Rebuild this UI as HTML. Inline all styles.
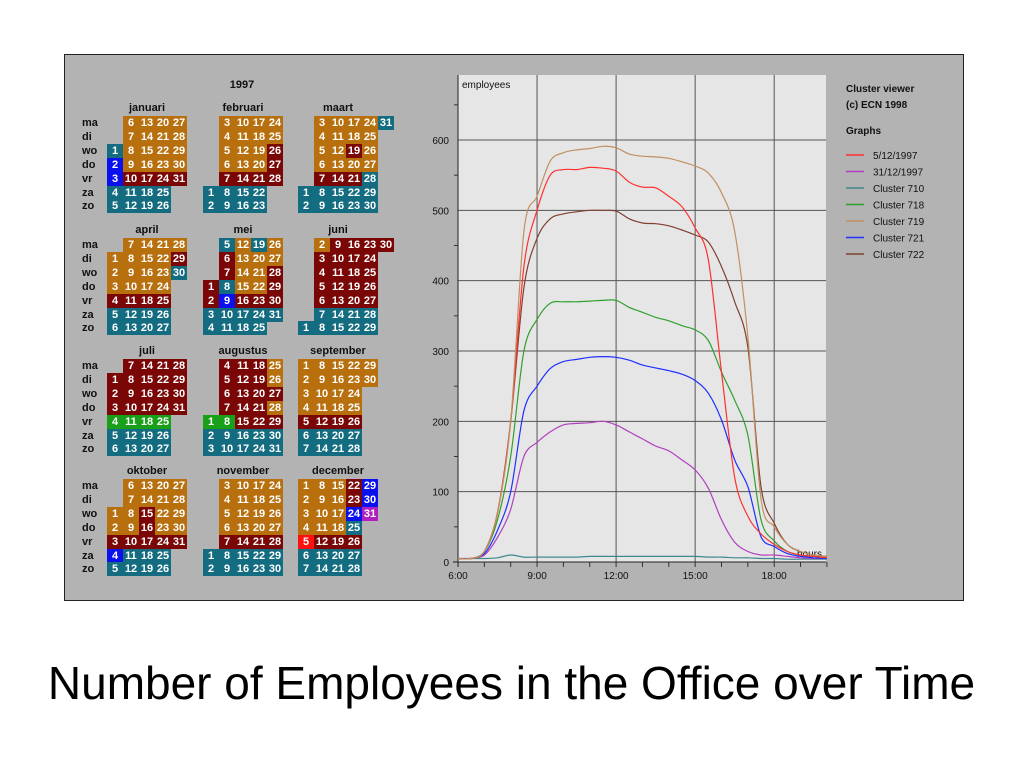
<!DOCTYPE html>
<html><head><meta charset="utf-8">
<style>
body{margin:0;width:1023px;height:767px;background:#fff;position:relative;overflow:hidden;font-family:"Liberation Sans",sans-serif}
#frame{position:absolute;left:64px;top:54px;width:898px;height:545px;background:#b3b3b3;border:1px solid #222}
#title{position:absolute;left:0;width:1023px;top:655px;text-align:center;font-size:46px;line-height:56px;color:#000;white-space:nowrap}
.c{position:absolute;width:16px;height:14px;color:#fff;font-weight:bold;font-size:11px;line-height:14px;text-align:center}
.lab{position:absolute;font-weight:bold;font-size:11px;color:#111}
</style></head><body>
<div id="frame"></div>
<div id="cal"></div>
<svg id="chart" width="1023" height="767" style="position:absolute;left:0;top:0"></svg>
<div id="title">Number of Employees in the Office over Time</div>
<script>
const times=[6,6.5,7,7.5,8,8.5,9,9.5,10,10.5,11,11.5,12,12.5,13,13.5,14,14.5,15,15.5,16,16.5,17,17.5,18,18.5,19,19.5,20];
const s5_12=[5,5,15,70,200,420,500,550,558,558,561,560,556,540,533,532,520,505,475,430,270,120,65,40,25,15,10,8,6];
const s31_12=[5,5,10,35,75,150,170,185,195,197,198,200,195,185,175,165,158,145,131,105,60,28,15,10,10,8,6,5,5];
const c710=[5,5,5,6,10,7,7,7,7,7,8,8,8,8,8,8,8,8,8,7,7,6,6,5,5,4,4,4,4];
const c718=[5,5,15,60,150,300,345,368,370,370,371,372,372,362,355,348,343,336,330,315,270,230,180,60,30,15,10,8,6];
const c719=[5,5,15,70,200,470,520,570,582,586,588,591,589,580,577,576,574,569,563,553,525,470,320,90,50,25,15,10,8];
const c721=[5,5,12,45,100,215,250,275,285,288,291,292,291,287,280,276,272,267,258,240,202,145,107,36,22,12,8,6,5];
const c722=[5,5,15,70,200,390,460,488,495,498,500,500,499,488,482,481,478,472,465,455,420,370,305,107,55,25,15,10,8];
const seriesNames=["5/12/1997","31/12/1997","Cluster 710","Cluster 718","Cluster 719","Cluster 721","Cluster 722"];
const seriesColors=["#ff3030","#b040c0","#408890","#30a030","#c09060","#2030ff","#804030"];
const yTicks=[0,100,200,300,400,500,600];
const xTicks=[6,9,12,15,18];
const xLabels=["6:00","9:00","12:00","15:00","18:00"];
const NS="http://www.w3.org/2000/svg";
const svg=document.getElementById('chart');
const X=t=>458+(t-6)*26.35, Y=v=>562-v*0.7033;
function el(n,a,p){const e=document.createElementNS(NS,n);for(const k in a)e.setAttribute(k,a[k]);(p||svg).appendChild(e);return e;}
const bg=el('rect',{x:458,y:75,width:368,height:487,fill:'#e6e6e6'});


for(const v of yTicks){const l=el('line',{x1:458,x2:826,y1:Y(v),y2:Y(v),stroke:'#555','stroke-width':1});


const t=el('text',{x:449,y:Y(v)+4,'font-size':10,'text-anchor':'end',fill:'#111'});t.textContent=v;

}
for(let v=50;v<=650;v+=100){el('line',{x1:454,x2:458,y1:Y(v),y2:Y(v),stroke:'#333'});}
xTicks.forEach((h,i)=>{if(h>6)el('line',{x1:X(h),x2:X(h),y1:75,y2:562,stroke:'#555'});
const t=el('text',{x:X(h),y:579,'font-size':10,'text-anchor':'middle',fill:'#111'});t.textContent=xLabels[i];

});
for(let h=6;h<=20;h++)el('line',{x1:X(h),x2:X(h),y1:562,y2:567,stroke:'#333'});
el('line',{x1:458,x2:458,y1:75,y2:567,stroke:'#222'});
el('line',{x1:453,x2:826,y1:562,y2:562,stroke:'#222'});
const yl=el('text',{x:462,y:88,'font-size':10,fill:'#111'});yl.textContent='employees';


const xl=el('text',{x:822,y:557,'font-size':10,'text-anchor':'end',fill:'#111'});xl.textContent='hours';


const allSeries=[s5_12,s31_12,c710,c718,c719,c721,c722];
const drawOrder=[2,1,5,3,6,0,4];
function smooth(pts){let d='M'+pts[0][0].toFixed(1)+','+pts[0][1].toFixed(1);
for(let i=0;i<pts.length-1;i++){const p0=pts[Math.max(0,i-1)],p1=pts[i],p2=pts[i+1],p3=pts[Math.min(pts.length-1,i+2)];
const k=0.16;const c1=[p1[0]+(p2[0]-p0[0])*k,p1[1]+(p2[1]-p0[1])*k],c2=[p2[0]-(p3[0]-p1[0])*k,p2[1]-(p3[1]-p1[1])*k];
d+='C'+c1[0].toFixed(1)+','+c1[1].toFixed(1)+' '+c2[0].toFixed(1)+','+c2[1].toFixed(1)+' '+p2[0].toFixed(1)+','+p2[1].toFixed(1);}
return d;}
for(const i of drawOrder){const pts=allSeries[i].map((v,j)=>[X(times[j]),Y(v)]);
const p=el('path',{d:smooth(pts),fill:'none',stroke:seriesColors[i],'stroke-width':1.2});

}
// legend
const lt=[['Cluster viewer',92],['(c) ECN 1998',108],['Graphs',134]];
for(const [s,y] of lt){const t=el('text',{x:846,y:y,'font-size':10,'font-weight':'bold',fill:'#111'});t.textContent=s;

}
seriesNames.forEach((n,i)=>{const y=155+i*16.5;
const g=el('g',{});


el('line',{x1:846,x2:864,y1:y,y2:y,stroke:seriesColors[i],'stroke-width':1.5},g);
const t=el('text',{x:873,y:y+4,'font-size':10,fill:'#111'},g);t.textContent=n;});
const yr=el('text',{x:242,y:88,'font-size':11,'font-weight':'bold','text-anchor':'middle',fill:'#111'});yr.textContent='1997';



// calendar
const col={o:'#b8700e',r:'#7a0606',t:'#146c80',b:'#0a10ee',g:'#18a018',R:'#ff1010',p:'#b020c0'};
const months=[
['januari',2,31,'ooooorr',{1:'t',2:'b',3:'b'}],
['februari',5,28,'ooooorr',{26:'r',27:'r'}],
['maart',5,31,'ooooorr',{19:'r',28:'t',31:'t'}],
['april',1,30,'ooooorr',{29:'r',30:'t'}],
['mei',3,31,'ooooorr',{1:'r',5:'t',6:'r',7:'r',8:'t',9:'b',19:'t',28:'r',29:'r'}],
['juni',6,30,'rrrrr',{2:'o'}],
['juli',1,31,'rrrrg',{}],
['augustus',4,31,'rrrrr',{1:'g',8:'g',25:'o',26:'o',28:'o'}],
['september',0,30,'ooooorr',{}],
['oktober',2,31,'ooooorr',{4:'b',15:'r',16:'r'}],
['november',5,30,'ooooorr',{}],
['december',0,31,'ooooorr',{5:'R',22:'r',23:'r',24:'b',25:'t',29:'b',30:'b',31:'p'}]];
const cal=document.getElementById('cal');
const dayNames=['ma','di','wo','do','vr','za','zo'];
const rowTop=[116,238,359,479], colLeft=[107,203,298];
months.forEach((m,mi)=>{const gx=colLeft[mi%3], gy=rowTop[Math.floor(mi/3)];
const lab=document.createElement('div');lab.className='lab';lab.textContent=m[0];
lab.style.left=gx+'px';lab.style.width='80px';lab.style.textAlign='center';lab.style.top=(gy-14)+'px';


cal.appendChild(lab);
for(let d=1;d<=m[2];d++){const idx=m[1]+d-1, wd=idx%7, wk=Math.floor(idx/7);
let c=m[4][d]||(wd>=5?'t':(m[3][wd]||'o'));if(wd===4&&m[3].length===7)c=m[4][d]||'r';if(wd===4&&m[3]==='rrrrg')c='g';
const e=document.createElement('div');e.className='c';e.textContent=d;
e.style.left=(gx+wk*16)+'px';e.style.top=(gy+wd*13.9)+'px';e.style.background=col[c];


cal.appendChild(e);}
if(mi%3===0){dayNames.forEach((n,i)=>{const t=document.createElement('div');t.className='lab';t.textContent=n;
t.style.left='82px';t.style.top=(gy+i*13.9)+'px';t.style.lineHeight='14px';


cal.appendChild(t);});}
});
</script>
</body></html>
